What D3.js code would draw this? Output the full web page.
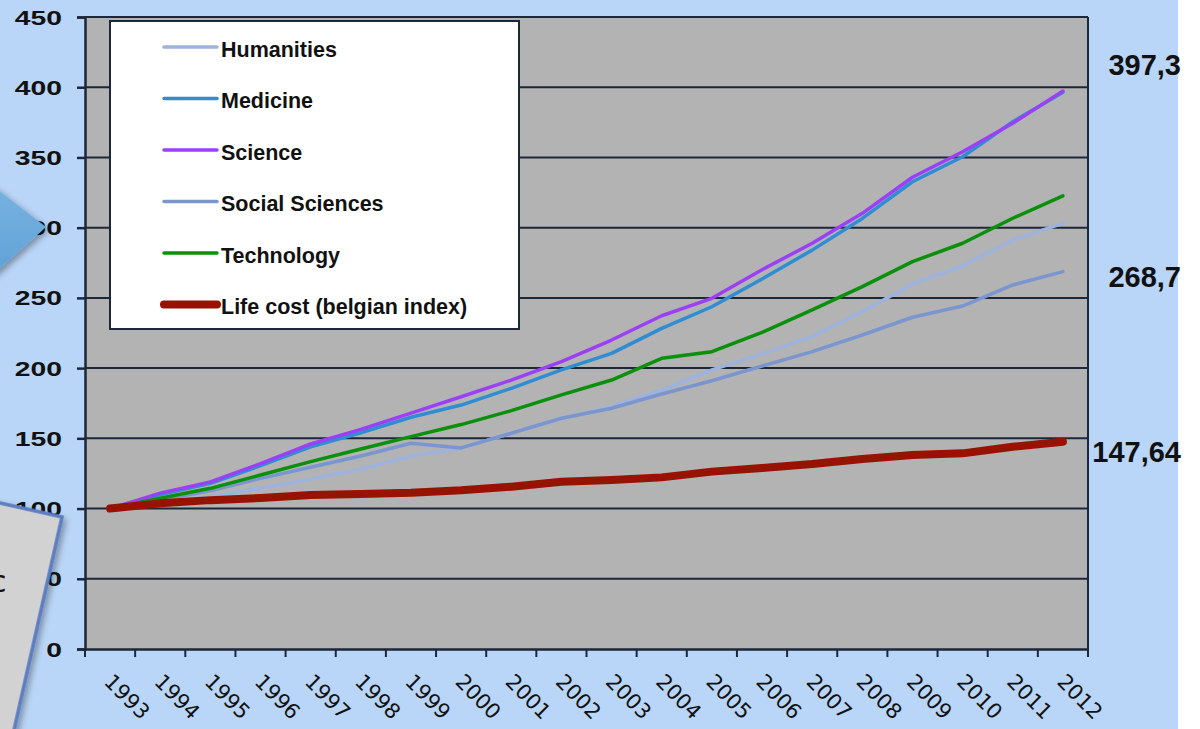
<!DOCTYPE html>
<html>
<head>
<meta charset="utf-8">
<script src="https://cdn.jsdelivr.net/npm/d3@7"></script>
<style>
  body { margin: 0; background: #ffffff; }
  svg { display: block; }
</style>
</head>
<body>
<script>
// Chart data
const years = ['1993', '1994', '1995', '1996', '1997', '1998', '1999', '2000', '2001', '2002',
               '2003', '2004', '2005', '2006', '2007', '2008', '2009', '2010', '2011', '2012'];
const humanities = [100, 104, 108.5, 114.4, 120.8, 128, 137.4, 143, 153.6, 164.3,
                    172.5, 184.4, 198.7, 210, 222.4, 240.2, 259.9, 272.7, 291.2, 303.1];
const medicine = [100, 110, 118, 130.5, 144, 154, 165, 173.7, 185.6, 198.7,
                  210.5, 228.3, 243.7, 263.5, 284, 306.6, 332.7, 350.5, 375.4, 396.5];
const science = [100, 111, 119, 132, 146, 156.4, 168, 179.6, 191.5, 204.6,
                 220, 237.3, 249.7, 270, 288.9, 310.2, 335.9, 354.1, 374.3, 397.3];
const socialSciences = [100, 106, 112.7, 121.5, 129.4, 137.4, 146.5, 143.2, 153.6, 164.3,
                        171.4, 181.6, 191, 201.5, 211.7, 223.6, 236.2, 244.2, 259.2, 268.7];
const technology = [100, 107.3, 114.4, 123.9, 133.4, 142.4, 151.2, 159.8, 169.7, 180.9,
                    191.5, 207, 211.7, 225.5, 241.4, 258, 275.8, 288.9, 306.7, 322.6];
const lifeCost = [100, 103.7, 106, 107.5, 109.7, 110.4, 111.3, 113, 115.6, 119.1,
                  120.3, 122.2, 126.3, 128.9, 131.7, 135.3, 138.1, 139.3, 144, 147.64];
const yTicks = [0, 50, 100, 150, 200, 250, 300, 350, 400, 450];
const endLabels = ['397,3', '268,7', '147,64'];

const seriesNames = ['Humanities', 'Medicine', 'Science', 'Social Sciences', 'Technology', 'Life cost (belgian index)'];
const seriesValues = [humanities, medicine, science, socialSciences, technology, lifeCost];
const seriesColors = ['#9db2dd', '#2f8dd3', '#9b40f7', '#7b96cf', '#0a900a', '#981200'];
const seriesWidths = [3.5, 3.5, 3.5, 3.5, 3.5, 8];

const WIDTH = 1200;
const HEIGHT = 729;
const plot = { left: 85, right: 1088, top: 17, bottom: 649 };

const svg = d3.select('body').append('svg')
    .attr('width', WIDTH)
    .attr('height', HEIGHT);

const defs = svg.append('defs');
const shadow = defs.append('filter').attr('id', 'shadow')
    .attr('x', '-30%').attr('y', '-30%').attr('width', '160%').attr('height', '160%');
shadow.append('feDropShadow')
    .attr('dx', 3).attr('dy', 3).attr('stdDeviation', 3)
    .attr('flood-color', '#000').attr('flood-opacity', 0.35);
const arrowGrad = defs.append('linearGradient').attr('id', 'arrowGrad')
    .attr('x1', 0).attr('y1', 0).attr('x2', 0).attr('y2', 1);
arrowGrad.append('stop').attr('offset', '0%').attr('stop-color', '#79b5e3');
arrowGrad.append('stop').attr('offset', '100%').attr('stop-color', '#5e9fd5');

// page background
svg.append('rect')
    .attr('x', 0).attr('y', 0)
    .attr('width', 1178).attr('height', HEIGHT)
    .attr('fill', '#b9d5f7');

// scales
const x = d3.scaleBand()
    .domain(years)
    .range([plot.left, plot.right]);
const y = d3.scaleLinear()
    .domain([0, 450])
    .range([plot.bottom, plot.top]);

// plot area
svg.append('rect')
    .attr('x', plot.left).attr('y', plot.top)
    .attr('width', plot.right - plot.left)
    .attr('height', plot.bottom - plot.top)
    .attr('fill', '#b3b3b3');

// gridlines
svg.append('g')
    .selectAll('line')
    .data(yTicks.filter(d => d > 0))
    .join('line')
    .attr('x1', plot.left).attr('x2', plot.right)
    .attr('y1', d => y(d)).attr('y2', d => y(d))
    .attr('stroke', '#1d273a')
    .attr('stroke-width', 2);

// right border
svg.append('line')
    .attr('x1', plot.right).attr('x2', plot.right)
    .attr('y1', plot.top).attr('y2', plot.bottom)
    .attr('stroke', '#1d273a').attr('stroke-width', 2);

// y axis
const yAxis = svg.append('g')
    .attr('transform', `translate(${plot.left},0)`)
    .call(d3.axisLeft(y).tickValues(yTicks).tickSize(8).tickFormat(''));
yAxis.selectAll('line, path').attr('stroke', '#1d273a').attr('stroke-width', 2.5);

// y tick labels, stretched horizontally like the pasted picture
svg.append('g')
    .selectAll('g')
    .data(yTicks)
    .join('g')
    .attr('transform', d => `translate(62,${y(d) + 7.5}) scale(1.38,1)`)
    .append('text')
    .attr('text-anchor', 'end')
    .attr('font-family', 'Liberation Sans, Arial, sans-serif')
    .attr('font-weight', 'bold')
    .attr('font-size', 20.5)
    .attr('fill', '#111')
    .text(d => d);

// x axis
const xAxis = svg.append('g')
    .attr('transform', `translate(0,${plot.bottom})`)
    .call(d3.axisBottom(x).tickSize(0).tickFormat(''));
xAxis.select('path').attr('stroke', '#1d273a').attr('stroke-width', 2.5);
const bounds = years.map(d => x(d)).concat([plot.right]);
svg.append('g')
    .selectAll('line')
    .data(bounds)
    .join('line')
    .attr('x1', d => d).attr('x2', d => d)
    .attr('y1', plot.bottom).attr('y2', plot.bottom + 8)
    .attr('stroke', '#1d273a').attr('stroke-width', 2);

svg.append('g')
    .selectAll('text')
    .data(years)
    .join('text')
    .attr('transform', d => `translate(${x(d) + x.bandwidth() / 2 - 7},683) rotate(45)`)
    .attr('font-family', 'DejaVu Sans, Verdana, sans-serif')
    .attr('font-size', 21)
    .attr('fill', '#111')
    .text(d => d);

// series lines
const line = d3.line()
    .x((d, i) => x(years[i]) + x.bandwidth() / 2)
    .y(d => y(d));

svg.append('g')
    .selectAll('path')
    .data(seriesValues)
    .join('path')
    .attr('d', d => line(d))
    .attr('fill', 'none')
    .attr('stroke', (d, i) => seriesColors[i])
    .attr('stroke-width', (d, i) => seriesWidths[i])
    .attr('stroke-linejoin', 'round')
    .attr('stroke-linecap', 'round');

// legend
const legend = svg.append('g');
legend.append('rect')
    .attr('x', 110).attr('y', 21)
    .attr('width', 409).attr('height', 308)
    .attr('fill', '#ffffff')
    .attr('stroke', '#1d273a')
    .attr('stroke-width', 2);

const rows = legend.selectAll('g.row')
    .data(seriesNames)
    .join('g')
    .attr('class', 'row')
    .attr('transform', (d, i) => `translate(0,${47 + i * 51.5})`);
rows.append('line')
    .attr('x1', 164).attr('x2', 217)
    .attr('y1', 0).attr('y2', 0)
    .attr('stroke', (d, i) => seriesColors[i])
    .attr('stroke-width', (d, i) => seriesWidths[i])
    .attr('stroke-linecap', 'round');
rows.append('text')
    .attr('x', 221)
    .attr('y', 9.5)
    .attr('font-family', 'Liberation Sans, Arial, sans-serif')
    .attr('font-weight', 'bold')
    .attr('font-size', 21.5)
    .attr('fill', '#111')
    .text(d => d);

// values at the right
svg.append('g')
    .selectAll('text')
    .data(endLabels)
    .join('text')
    .attr('x', 1181)
    .attr('y', (d, i) => [75, 287, 462][i])
    .attr('text-anchor', 'end')
    .attr('font-family', 'Liberation Sans, Arial, sans-serif')
    .attr('font-weight', 'bold')
    .attr('font-size', 29)
    .attr('fill', '#111')
    .text(d => d);

// slide decorations overlapping the left side
svg.append('polygon')
    .attr('points', '-20,176 46,227 -20,286')
    .attr('fill', 'url(#arrowGrad)')
    .attr('filter', 'url(#shadow)');

const box = svg.append('g')
    .attr('transform', 'translate(62,517) rotate(12.7)');
box.append('rect')
    .attr('x', -400).attr('y', 0)
    .attr('width', 400).attr('height', 260)
    .attr('fill', '#d2d2d2')
    .attr('stroke', '#5c7dc1')
    .attr('stroke-width', 3.5)
    .attr('filter', 'url(#shadow)');
svg.append('text')
    .attr('x', -10).attr('y', 592)
    .attr('font-family', 'DejaVu Sans, sans-serif')
    .attr('font-size', 30)
    .attr('fill', '#111')
    .text('c');
</script>
</body>
</html>
